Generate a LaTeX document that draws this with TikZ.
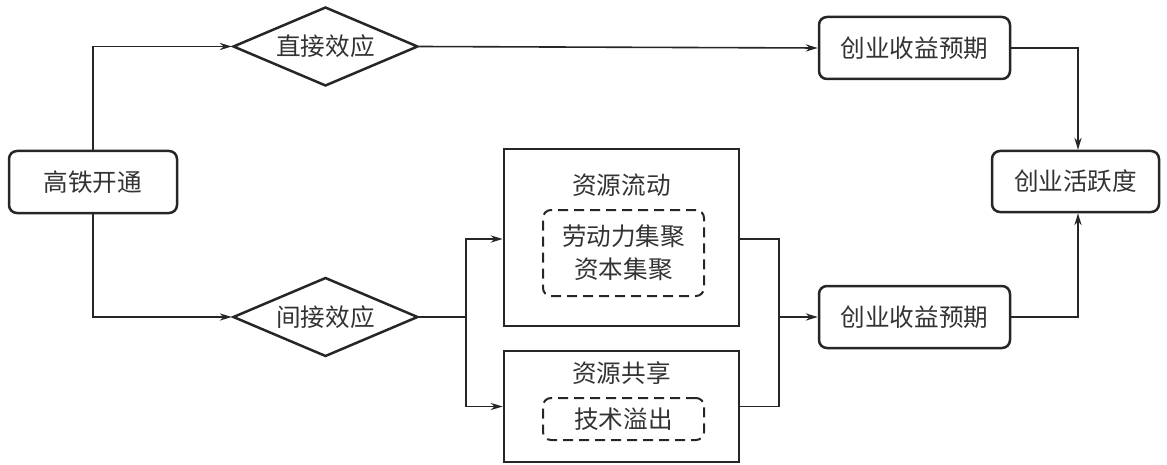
\documentclass[tikz,border=0pt]{standalone}
\usepackage{fontspec}
\setmainfont{Noto Sans CJK SC}
\usepackage{tikz}
\usetikzlibrary{shapes.geometric}
\usetikzlibrary{arrows.meta}

\begin{document}
\begin{tikzpicture}[x=0.5pt, y=-0.5pt, every node/.style={inner sep=2pt, text=black!80},
  font=\fontsize{12.3}{16.5}\selectfont,
  rbox/.style={draw=black!85, line width=1.25pt, rounded corners=4pt, minimum height=31pt},
  dia/.style={draw=black!85, line width=1.25pt, shape=diamond, aspect=2.34, inner sep=0pt, minimum width=92.5pt, minimum height=39.5pt},
  sbox/.style={draw=black!85, line width=1.35pt, minimum width=117.5pt},
  dbox/.style={draw=black!85, line width=1pt, dash pattern=on 5pt off 3pt, rounded corners=4pt, minimum width=80.5pt, align=center},
  conn/.style={draw=black!85, line width=0.8pt},
  arr/.style={conn, -{Stealth[length=6pt, width=3.6pt]}}]
\useasboundingbox (0,0) rectangle (1167,465);

\node (gt) [rbox, minimum width=84pt] at (93,182) {高铁开通};
\node (zj) [dia] at (325.5,46.5) {直接效应};
\node (jj) [dia] at (325.5,317) {间接效应};
\node (sy1) [rbox, minimum width=95.5pt] at (914.5,48) {创业收益预期};
\node (sy2) [rbox, minimum width=95.5pt] at (914.5,317) {创业收益预期};
\node (hy) [rbox, minimum width=83.5pt, minimum height=30.5pt] at (1075.5,181.5) {创业活跃度};

\node (ld) [sbox, minimum height=88.5pt] at (621.5,237.5) {};
\node (ldt) at (621.5,185) {资源流动};
\node (ldin) [dbox, minimum height=43pt] at (623.5,253) {劳动力集聚\\资本集聚};
\node (gx) [sbox, minimum height=55.5pt] at (621.5,406.5) {};
\node (gxt) at (621.5,373) {资源共享};
\node (gxin) [dbox, minimum height=21pt] at (623.5,419) {技术溢出};

\coordinate (fj) at (466,317);
\coordinate (hb) at (779,317);

\draw [arr] (gt.north) |- (zj.west);
\draw [arr] (gt.south) |- (jj.west);
\draw [arr] (zj.east) -- (sy1.west);
\draw [arr] (sy1.east) -| ([xshift=1.25pt]hy.north);
\draw [arr] (sy2.east) -| ([xshift=1.25pt]hy.south);
\draw [conn] (jj.east) -- (fj);
\draw [arr] (fj) |- ([yshift=-0.75pt]ld.west);
\draw [arr] (fj) |- (gx.west);
\draw [conn] ([yshift=-0.75pt]ld.east) -| (hb);
\draw [conn] (gx.east) -| (hb);
\draw [arr] (hb) -- (sy2.west);
\end{tikzpicture}
\end{document}
